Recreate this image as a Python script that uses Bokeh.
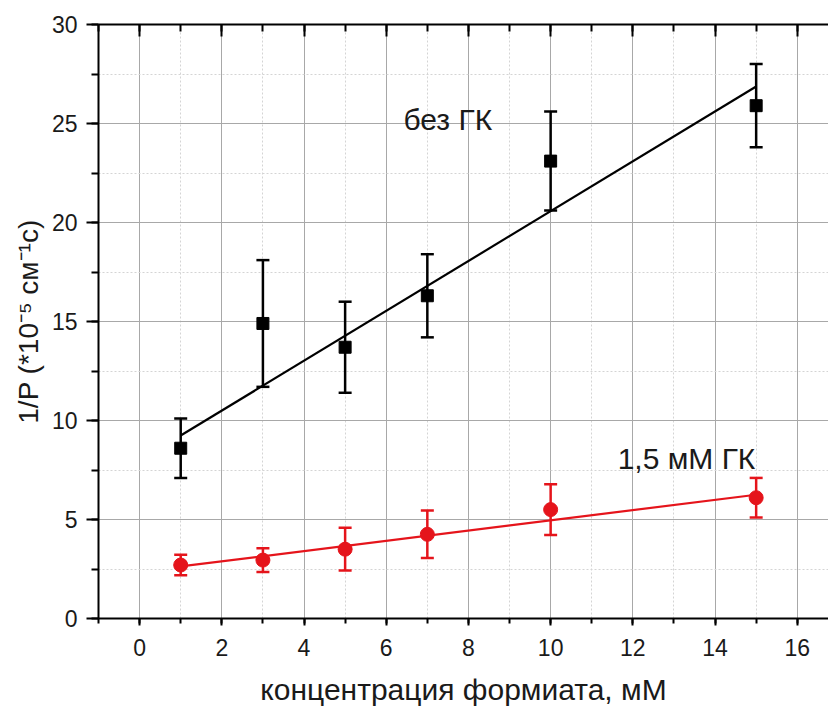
from bokeh.plotting import figure
from bokeh.models import (ColumnDataSource, Whisker, TeeHead, LinearAxis,
                          SingleIntervalTicker, Range1d, Label, CustomJSTickFormatter)
from bokeh.embed import file_html
from bokeh.resources import INLINE

# formate concentration, mM
conc = [1, 3, 5, 7, 10, 15]

# 1/P without GK, with standard deviations
y_no_gk = [8.6, 14.9, 13.7, 16.3, 23.1, 25.9]
err_no_gk = [1.5, 3.2, 2.3, 2.1, 2.5, 2.1]

# 1/P with 1.5 mM GK
y_gk = [2.7, 2.95, 3.5, 4.25, 5.5, 6.1]
err_gk = [0.52, 0.6, 1.08, 1.2, 1.28, 1.0]

# linear fits (endpoints at the first and last concentration)
fit_x = [1, 15]
fit_no_gk = [9.24, 26.87]
fit_gk = [2.63, 6.25]

x_ticks_interval = 2
y_ticks_interval = 5

FONT = "Liberation Sans"
RED = "#e5141b"
INK = "#1a1a1a"

p = figure(width=828, height=710, output_backend="svg", toolbar_location=None,
           x_range=Range1d(-1, 16.76), y_range=Range1d(0, 30),
           min_border_left=98, min_border_top=24, min_border_bottom=92,
           min_border_right=0)
p.outline_line_color = None
p.background_fill_color = "white"
p.border_fill_color = "white"

xt = SingleIntervalTicker(interval=x_ticks_interval, num_minor_ticks=2)
yt = SingleIntervalTicker(interval=y_ticks_interval, num_minor_ticks=2)

# grid: solid major lines, dotted minor lines
for g, t in ((p.xgrid, xt), (p.ygrid, yt)):
    g.ticker = t
    g.grid_line_color = "#a8a8a8"
    g.grid_line_width = 1
    g.minor_grid_line_color = "#d4d4d4"
    g.minor_grid_line_dash = "2 2"
    g.minor_grid_line_width = 1

xa = p.xaxis[0]
xa.ticker = xt
xa.axis_label = "концентрация формиата, мМ"
xa.major_tick_out = 7
xa.major_tick_in = 0
xa.minor_tick_out = 5
xa.minor_tick_in = 0
xa.major_label_standoff = 13
xa.axis_label_standoff = 14

ya = p.yaxis[0]
ya.ticker = yt
ya.axis_label = "1/P (*10⁻⁵ см⁻¹с)"
ya.major_tick_out = 12
ya.major_tick_in = 0
ya.minor_tick_out = 7
ya.minor_tick_in = 0
ya.major_label_standoff = 9
ya.axis_label_standoff = 5

for ax, lbl_size in ((xa, "30px"), (ya, "28px")):
    ax.axis_line_width = 2
    ax.axis_line_color = "black"
    ax.major_tick_line_width = 2
    ax.minor_tick_line_width = 2
    ax.major_tick_line_color = "black"
    ax.minor_tick_line_color = "black"
    ax.major_label_text_font = FONT
    ax.major_label_text_font_size = "23px"
    ax.major_label_text_color = INK
    ax.axis_label_text_font = FONT
    ax.axis_label_text_font_size = lbl_size
    ax.axis_label_text_font_style = "normal"
    ax.axis_label_text_color = INK

# top frame axis with inward ticks and no labels
top = LinearAxis(ticker=SingleIntervalTicker(interval=x_ticks_interval, num_minor_ticks=2),
                 formatter=CustomJSTickFormatter(code="return ''"),
                 major_tick_out=0, major_tick_in=12,
                 minor_tick_out=0, minor_tick_in=7, axis_line_width=2,
                 major_tick_line_width=2, minor_tick_line_width=2,
                 major_label_standoff=0)
p.add_layout(top, "above")

src_a = ColumnDataSource(dict(x=conc, y=y_no_gk,
                              lo=[v - e for v, e in zip(y_no_gk, err_no_gk)],
                              hi=[v + e for v, e in zip(y_no_gk, err_no_gk)]))
src_b = ColumnDataSource(dict(x=conc, y=y_gk,
                              lo=[v - e for v, e in zip(y_gk, err_gk)],
                              hi=[v + e for v, e in zip(y_gk, err_gk)]))

# fit lines
p.line(fit_x, fit_no_gk, line_color="black", line_width=2.2)
p.line(fit_x, fit_gk, line_color=RED, line_width=2.2)

# error bars
for src, col in ((src_a, "black"), (src_b, RED)):
    w = Whisker(source=src, base="x", upper="hi", lower="lo",
                line_color=col, line_width=2.5,
                upper_head=TeeHead(size=13, line_color=col, line_width=2.5),
                lower_head=TeeHead(size=13, line_color=col, line_width=2.5))
    p.add_layout(w)

p.scatter("x", "y", source=src_a, marker="square", size=12,
          fill_color="black", line_color="black")
p.scatter("x", "y", source=src_b, marker="circle", size=14,
          fill_color=RED, line_color=RED)

p.add_layout(Label(x=6.42, y=25.2, text="без ГК", text_font=FONT,
                   text_font_size="30px", text_color=INK,
                   text_baseline="alphabetic", text_align="left"))
p.add_layout(Label(x=11.63, y=8.08, text="1,5 мМ ГК", text_font=FONT,
                   text_font_size="30px", text_color=INK,
                   text_baseline="alphabetic", text_align="left"))

open("out.html", "w").write(file_html(p, INLINE))
